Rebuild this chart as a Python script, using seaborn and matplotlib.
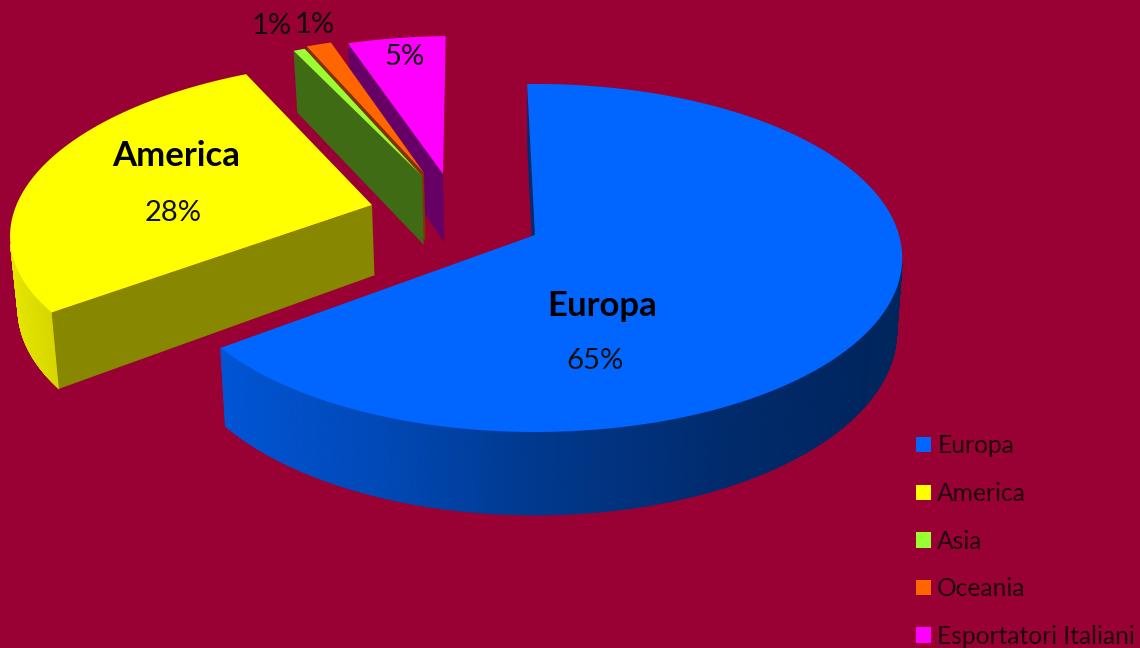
import numpy as np
import matplotlib
matplotlib.use("Agg")
import matplotlib.pyplot as plt
from matplotlib.collections import PolyCollection
from matplotlib.patches import Patch, Polygon
import seaborn as sns

# Export shares by destination, in percent
categories = ["Europa", "America", "Asia", "Oceania", "Esportatori Italiani"]
shares = [65.0, 28.0, 0.6, 1.3, 5.1]
palette = sns.color_palette(["#0066FF", "#FFFF00", "#99FF33", "#FF6600", "#FF00FF"])

# Where each exploded slice has its tip, and how dark its cut face is
slice_tips = [(535, 235), (372, 205), (422, 176), (424, 173), (443, 174)]
face_shades = [0.44, 0.53, 0.42, 0.50, 0.40]

# Label anchors: (name position or None, percentage position)
name_positions = [(602, 306), (176, 156), None, None, None]
value_positions = [(595, 361), (173, 213), (272, 26), (315, 25), (404, 57)]

BACKGROUND = "#990033"
START_ANGLE = 91.4

# Perspective of the pie plane
CX, CY = 535.0, 235.0
RX, RY, K = 364.0, 171.0, 0.132
DEPTH, TAPER = 72.0, 0.985

WALL_COS = [-0.95, -0.84, -0.37, 0.0, 0.45, 0.87]
WALL_LIGHT = [0.90, 0.86, 0.72, 0.56, 0.43, 0.37]


def project(u, v):
    s = 1.0 / (1.0 + K * v)
    return CX + RX * u * s, CY - RY * v * s, s


def unproject(x, y):
    v = (CY - y) / (RY - K * (CY - y))
    u = (x - CX) * (1.0 + K * v) / RX
    return u, v


def lower(x, s, y):
    return CX + (x - CX) * TAPER, y + DEPTH * s


sns.set_theme(style="white", rc={"figure.facecolor": BACKGROUND, "axes.facecolor": BACKGROUND})
plt.rcParams["font.family"] = ["Lato", "DejaVu Sans"]

fig = plt.figure(figsize=(11.4, 6.48), dpi=100)
ax = fig.add_axes([0, 0, 1, 1])
ax.set_xlim(0, 1140)
ax.set_ylim(648, 0)
ax.axis("off")

# Clockwise angular span of every slice
edges = START_ANGLE - np.concatenate([[0], np.cumsum(shares)]) * 3.6
slices = list(zip(categories, palette, edges[:-1], edges[1:], slice_tips, face_shades))

# Far slices are painted first so the near ones overlap them
for name, color, a0, a1, tip, shade in reversed(slices):
    u0, v0 = unproject(*tip)
    theta = np.radians(np.linspace(a0, a1, int(abs(a1 - a0) * 3) + 4))
    tx, ty, ts = project(u0 + np.cos(theta), v0 + np.sin(theta))
    bx, by = lower(tx, ts, ty)
    rgb = np.array(color)

    quads, colors = [], []
    for i in range(len(theta) - 1):
        quad = np.array([[tx[i], ty[i]], [tx[i + 1], ty[i + 1]], [bx[i + 1], by[i + 1]], [bx[i], by[i]]])
        x, y = quad.T
        if np.dot(x, np.roll(y, -1)) - np.dot(y, np.roll(x, -1)) < 0:
            quads.append(quad)
            colors.append(rgb * np.interp(np.cos(theta[i]), WALL_COS, WALL_LIGHT))
    if quads:
        ax.add_collection(PolyCollection(quads, facecolors=colors, edgecolors=colors, linewidths=0.6))

    # Cut face along the leading edge of the slice
    apex_b = lower(tip[0], 1.0 / (1.0 + K * v0), tip[1])
    ax.add_patch(Polygon([tip, (tx[0], ty[0]), (bx[0], by[0]), apex_b],
                         facecolor=rgb * shade, edgecolor="none"))

    # Top surface
    ax.add_patch(Polygon(np.column_stack([np.r_[tip[0], tx], np.r_[tip[1], ty]]),
                         facecolor=color, edgecolor="none"))

total = sum(shares)
for name, value, name_pos, value_pos in zip(categories, shares, name_positions, value_positions):
    if name_pos is not None:
        ax.text(*name_pos, name, ha="center", va="center", fontsize=25, fontweight="bold", color="black")
    ax.text(*value_pos, f"{value / total * 100:.0f}%", ha="center", va="center", fontsize=21, color="#101010")

handles = [Patch(facecolor=c, edgecolor="none") for c in palette]
ax.legend(handles, categories, loc="upper left", bbox_to_anchor=(909, 427), bbox_transform=ax.transData,
          frameon=False, fontsize=17.7, labelcolor="#200010", labelspacing=1.0, handlelength=0.58,
          handleheight=0.58, handletextpad=0.27, borderpad=0.3, borderaxespad=0)

fig.savefig("out.png", dpi=100, facecolor=BACKGROUND)
